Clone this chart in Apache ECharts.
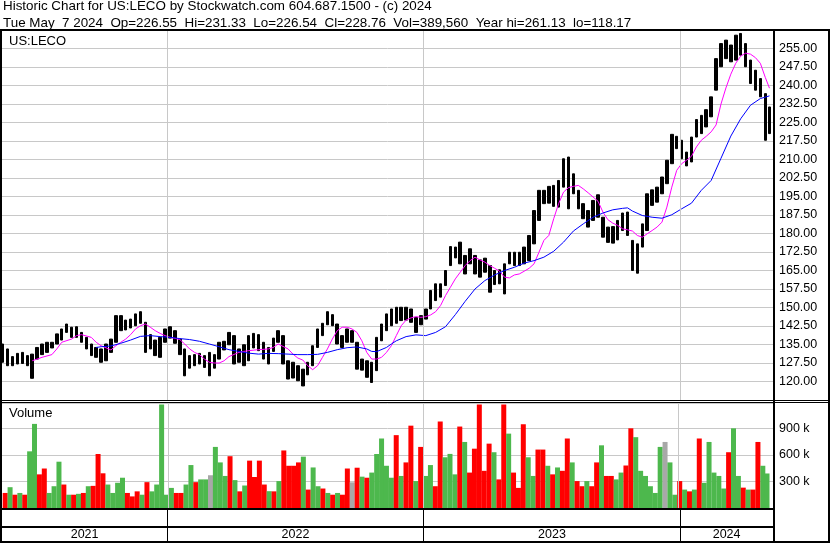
<!DOCTYPE html>
<html><head><meta charset="utf-8">
<script src="https://cdn.jsdelivr.net/npm/echarts@6/dist/echarts.min.js"></script>
<style>html,body{margin:0;padding:0;background:#fff}#c{width:830px;height:543px}</style>
</head><body><div id="c"></div>
<script>
// ---- DATA (weekly samples) ----
const weeks = [
'2021-05-12','2021-05-19','2021-05-26','2021-06-02','2021-06-09','2021-06-16','2021-06-23','2021-06-30','2021-07-07','2021-07-14','2021-07-21','2021-07-28','2021-08-04','2021-08-11','2021-08-18','2021-08-25','2021-09-01','2021-09-08','2021-09-15','2021-09-22','2021-09-29','2021-10-06','2021-10-13','2021-10-20','2021-10-27','2021-11-03','2021-11-10','2021-11-17','2021-11-24','2021-12-01','2021-12-08','2021-12-15','2021-12-22','2021-12-29',
'2022-01-05','2022-01-12','2022-01-19','2022-01-26','2022-02-02','2022-02-09','2022-02-16','2022-02-23','2022-03-02','2022-03-09','2022-03-16','2022-03-23','2022-03-30','2022-04-06','2022-04-13','2022-04-20','2022-04-27','2022-05-04','2022-05-11','2022-05-18','2022-05-25','2022-06-01','2022-06-08','2022-06-15','2022-06-22','2022-06-29','2022-07-06','2022-07-13','2022-07-20','2022-07-27','2022-08-03','2022-08-10','2022-08-17','2022-08-24','2022-08-31','2022-09-07','2022-09-14','2022-09-21','2022-09-28','2022-10-05','2022-10-12','2022-10-19','2022-10-26','2022-11-02','2022-11-09','2022-11-16','2022-11-23','2022-11-30','2022-12-07','2022-12-14','2022-12-21','2022-12-28',
'2023-01-04','2023-01-11','2023-01-18','2023-01-25','2023-02-01','2023-02-08','2023-02-15','2023-02-22','2023-03-01','2023-03-08','2023-03-15','2023-03-22','2023-03-29','2023-04-05','2023-04-12','2023-04-19','2023-04-26','2023-05-03','2023-05-10','2023-05-17','2023-05-24','2023-05-31','2023-06-07','2023-06-14','2023-06-21','2023-06-28','2023-07-05','2023-07-12','2023-07-19','2023-07-26','2023-08-02','2023-08-09','2023-08-16','2023-08-23','2023-08-30','2023-09-06','2023-09-13','2023-09-20','2023-09-27','2023-10-04','2023-10-11','2023-10-18','2023-10-25','2023-11-01','2023-11-08','2023-11-15','2023-11-22','2023-11-29','2023-12-06','2023-12-13','2023-12-20','2023-12-27',
'2024-01-03','2024-01-10','2024-01-17','2024-01-24','2024-01-31','2024-02-07','2024-02-14','2024-02-21','2024-02-28','2024-03-06','2024-03-13','2024-03-20','2024-03-27','2024-04-03','2024-04-10','2024-04-17','2024-04-24','2024-05-01','2024-05-07'
];
const hi = [135.2,133.2,130.1,131.4,131.8,130.5,131.1,133.8,135.2,135.9,135.9,139.3,141.3,143.3,142.0,142.2,139.9,137.9,135.2,133.8,
133.2,135.2,137.2,146.7,146.7,144.9,145.3,147.4,148.3,144.0,139.0,136.8,137.9,141.3,142.2,140.6,137.2,133.2,130.5,130.9,
131.4,130.5,131.8,130.9,135.9,136.3,139.9,138.6,133.2,134.9,138.6,139.5,139.0,135.9,133.8,137.6,140.6,138.6,128.4,127.8,
126.4,125.0,127.8,134.5,141.3,143.6,148.3,147.1,143.3,138.6,141.3,140.6,135.9,129.1,128.4,127.8,137.9,143.3,147.4,149.4,
150.1,150.1,150.1,149.4,146.0,146.7,149.4,156.9,159.6,159.6,165.0,174.7,174.5,176.5,171.1,173.8,171.1,169.3,170.0,167.0,
165.0,165.3,167.7,172.4,172.4,172.4,174.5,179.2,189.3,197.5,197.5,199.1,199.5,201.5,210.3,211.0,204.2,197.5,192.1,189.3,
193.4,195.7,186.6,182.6,182.8,185.3,188.3,188.7,177.2,175.8,183.9,196.1,197.7,198.8,202.9,209.7,220.2,219.4,217.8,213.0,
219.1,226.2,227.9,230.2,235.4,250.9,257.0,258.4,256.4,260.4,261.1,257.0,250.3,246.2,242.8,236.7,231.3];
const lo = [127.8,126.4,126.4,127.1,127.3,126.4,121.3,129.1,130.9,131.8,133.6,135.2,136.8,139.9,137.9,137.9,135.9,133.2,130.5,129.8,
127.8,128.4,131.8,135.9,140.6,140.9,141.7,142.6,143.6,131.8,133.2,130.5,129.8,135.9,137.6,135.5,130.9,122.3,125.4,126.4,
127.1,125.7,122.3,125.4,129.1,132.8,134.9,127.1,127.8,126.4,128.4,133.6,132.5,129.1,127.1,132.2,135.9,127.1,121.0,121.4,
120.3,118.2,122.7,126.4,133.8,138.6,143.0,142.6,135.2,133.8,135.9,135.9,125.0,124.6,121.7,119.6,124.4,136.5,140.6,142.6,
143.6,144.7,144.9,144.0,139.9,143.0,145.3,149.4,152.8,154.2,158.9,167.0,170.1,167.7,163.6,167.7,163.6,162.3,164.3,156.2,
159.3,159.6,155.5,167.7,167.0,167.0,167.7,169.0,175.8,185.3,192.1,192.3,191.0,190.7,198.8,190.0,196.1,190.0,186.0,182.6,
185.3,186.6,178.5,176.4,176.1,177.4,181.2,179.2,165.0,163.9,174.5,181.2,191.4,192.7,196.1,200.2,208.3,214.4,210.3,207.4,
209.0,219.1,220.5,223.2,227.3,238.1,247.6,250.9,249.6,250.3,252.3,247.6,240.8,238.1,235.4,217.8,220.5];
const volK = [170,235,150,170,150,640,950,380,446,170,246,523,265,150,150,160,170,246,250,610,
392,265,170,285,342,170,131,188,150,292,188,265,1169,150,227,170,170,265,485,292,
323,323,370,690,515,362,585,315,188,254,535,350,535,265,190,188,304,650,477,477,
515,580,208,458,246,220,170,150,170,150,446,290,455,354,342,400,610,785,477,342,
823,362,515,930,304,690,362,485,246,977,573,611,380,920,746,400,670,1169,420,727,
630,323,1169,840,400,227,946,573,362,660,660,477,380,458,420,785,515,304,246,304,
246,515,708,362,362,323,400,480,900,800,420,362,246,170,690,746,515,150,304,208,
188,208,785,285,746,400,362,220,630,900,362,230,208,208,746,477,390];
const volDir = ['d','u','d','u','d','u','u','d','d','u','u','u','d','u','d','u','d','u','d','d',
'd','u','u','u','u','d','d','d','u','d','u','u','u','u','u','d','d','u','u','d',
'u','u','n','u','u','u','d','u','d','u','d','d','d','d','u','d','u','d','d','d',
'd','u','d','u','u','d','u','d','u','d','d','n','d','u','d','u','u','u','u','u',
'd','u','d','d','u','d','u','u','d','d','u','u','u','d','u','d','d','d','d','d',
'u','d','d','u','d','d','d','u','u','d','d','u','d','u','d','d','u','d','d','u',
'd','d','u','d','d','u','u','d','d','u','u','u','u','u','u','n','u','u','d','u',
'd','u','d','u','u','u','u','u','d','u','u','d','u','d','d','u','u'];
// moving averages (week index -> value)
const maFastIdx = [6,8,10,11,12,14,15,16,18,19,20,22,23,24,25,26,27,28,29,30,31,32,33,34,35,36,37,38,39,40,41,42,43,44,45,46,48,49,50,52,54,55,56,58,59,60,61,62,63,64,65,66,67,68,69,70,71,72,73,74,75,76,77,78,79,80,81,82,83,84,85,86,87,88,89,90,91,92,93,94,95,96,97,98,99,100,101,102,103,104,105,106,107,108,109,110,111,112,113,114,115,116,117,118,119,120,121,122,123,124,125,126,127,128,129,130,131,132,133,134,135,136,137,138,139,140,141,142,143,144,145,146,147,148,149,150,151,152,153,154,155,156];
const maFast = [128.4,129.8,130.9,133.2,135.9,137.2,138.6,139.0,137.9,135.9,134.5,132.8,134.5,135.9,137.2,139.0,141.3,142.6,143.3,142.0,140.6,139.5,138.6,137.9,137.5,137.0,135.2,133.2,131.8,130.9,129.1,127.8,127.5,127.5,128.4,130.1,131.8,132.2,132.5,132.9,133.2,133.8,135.2,133.2,131.1,129.5,128.7,126.4,124.8,126.4,129.8,133.2,137.2,140.6,142.0,142.0,141.3,139.9,136.5,131.8,129.1,129.1,129.8,131.8,134.5,138.6,142.6,144.9,145.8,146.3,146.0,146.3,147.0,148.3,150.8,154.8,158.2,161.6,164.3,167.0,169.0,170.4,169.3,168.4,167.0,165.9,164.7,162.3,162.0,163.2,163.6,164.7,165.9,167.7,172.4,177.2,179.2,186.0,192.1,196.8,198.6,199.1,199.5,198.1,196.5,194.8,193.1,188.7,185.6,184.2,183.3,181.9,181.5,181.0,179.2,178.5,179.9,181.2,182.6,184.6,190.7,198.8,205.6,208.3,209.7,211.3,215.1,217.8,219.4,221.2,224.0,232.5,239.0,244.6,249.0,251.9,253.1,252.7,251.3,249.0,243.3,238.9];
const maSlowIdx = [19,20,22,24,26,28,30,32,34,36,38,40,42,44,46,48,50,52,54,56,58,60,62,64,66,68,70,72,74,75,76,78,79,80,82,84,86,88,90,92,94,96,98,100,102,104,106,108,110,112,114,116,118,120,122,124,126,127,128,130,132,134,136,138,140,142,144,146,148,150,152,154,156];
const maSlow = [133.8,134.1,134.4,135.5,136.8,138.3,138.6,138.2,137.9,137.4,137.0,136.3,135.2,134.1,132.9,132.2,131.5,131.1,131.4,131.3,131.1,130.9,130.9,131.0,131.8,132.9,133.7,134.0,133.2,132.2,132.1,133.8,135.2,136.5,138.2,138.9,138.6,139.9,142.2,147.1,152.5,157.5,160.9,163.2,165.0,166.3,168.0,169.0,170.4,172.8,176.5,181.0,183.9,186.6,188.3,189.6,190.2,190.4,189.1,187.3,186.6,186.2,187.6,190.0,192.3,197.5,201.5,210.5,219.5,226.5,232.0,234.7,235.8];
const yearBounds = ['2021-05-11','2022-01-01','2023-01-01','2024-01-01','2024-05-12'];
const yearLabels = ['2021','2022','2023','2024'];
const headerLine1 = 'Historic Chart for US:LECO by Stockwatch.com 604.687.1500 - (c) 2024';
const headerLine2 = 'Tue May  7 2024  Op=226.55  Hi=231.33  Lo=226.54  Cl=228.76  Vol=389,560  Year hi=261.13  lo=118.17';

// ---- CHART ----
const FONT = '"Liberation Sans", Arial, sans-serif';
const T0 = yearBounds[0], T1 = yearBounds[yearBounds.length - 1];
const inner = yearBounds.slice(1, -1);
const volColor = {u: '#4db84d', d: '#ff0000', n: '#a8a8a8'};
const candle = weeks.map((d, i) => [d, lo[i], hi[i], lo[i], hi[i]]);
const volData = weeks.map((d, i) => ({value: [d, volK[i]], itemStyle: {color: volColor[volDir[i]]}}));
const fastData = maFastIdx.map((k, j) => [weeks[k], maFast[j]]);
const slowData = maSlowIdx.map((k, j) => [weeks[k], maSlow[j]]);

const gridLine = c => ({silent: true, symbol: ['none', 'none'], label: {show: false}, animation: false,
  lineStyle: {color: c, width: 1, type: 'solid'}, data: inner.map(d => ({xAxis: d}))});
const timeAxis = g => ({type: 'time', gridIndex: g, min: T0, max: T1, show: false});

const chart = echarts.init(document.getElementById('c'), null, {renderer: 'canvas'});
chart.setOption({
  animation: false,
  backgroundColor: '#fff',
  grid: [
    {left: 2, right: 57, top: 30, height: 370},
    {left: 2, right: 57, top: 403, height: 105},
    {left: 2, right: 57, top: 510, height: 31},
    {left: 2, right: 57, top: 528, height: 13}
  ],
  xAxis: [timeAxis(0), timeAxis(1), timeAxis(2), timeAxis(3)],
  yAxis: [
    {type: 'value', gridIndex: 0, position: 'right', min: 112.5, max: 262.5, interval: 7.5,
     axisLine: {show: false}, axisTick: {show: false},
     splitLine: {show: true, lineStyle: {color: '#c8c8c8', width: 1}},
     axisLabel: {color: '#000', fontFamily: FONT, fontSize: 12.5, margin: 6,
       showMinLabel: false, showMaxLabel: false, formatter: v => v.toFixed(2)}},
    {type: 'value', gridIndex: 1, position: 'right', min: 0, max: 1186, interval: 300,
     axisLine: {show: false}, axisTick: {show: false},
     splitLine: {show: true, lineStyle: {color: '#c8c8c8', width: 1}},
     axisLabel: {color: '#000', fontFamily: FONT, fontSize: 12.5, margin: 6,
       showMinLabel: false, showMaxLabel: false, formatter: v => v + ' k'}},
    {type: 'value', gridIndex: 2, min: 0, max: 1, show: false},
    {type: 'value', gridIndex: 3, min: 0, max: 1, show: false}
  ],
  series: [
    {type: 'line', xAxisIndex: 0, yAxisIndex: 0, data: [], markLine: gridLine('#c8c8c8'), z: 1},
    {type: 'candlestick', xAxisIndex: 0, yAxisIndex: 0, data: candle, encode: {x: 0, y: [1, 2, 3, 4]},
     barWidth: 3, silent: true,
     itemStyle: {color: '#000', color0: '#000', borderColor: '#000', borderColor0: '#000', borderWidth: 1}, z: 2},
    {type: 'line', xAxisIndex: 0, yAxisIndex: 0, data: fastData, showSymbol: false, symbol: 'none',
     lineStyle: {color: '#ff00ff', width: 1}, itemStyle: {color: '#ff00ff'}, silent: true, z: 3},
    {type: 'line', xAxisIndex: 0, yAxisIndex: 0, data: slowData, showSymbol: false, symbol: 'none',
     lineStyle: {color: '#0000ff', width: 1}, itemStyle: {color: '#0000ff'}, silent: true, z: 3},
    {type: 'line', xAxisIndex: 1, yAxisIndex: 1, data: [], markLine: gridLine('#c8c8c8'), z: 1},
    {type: 'bar', xAxisIndex: 1, yAxisIndex: 1, data: volData, barWidth: 5, silent: true, z: 2},
    {type: 'line', xAxisIndex: 2, yAxisIndex: 2, data: [], markLine: gridLine('#000'), z: 5},
    {type: 'line', xAxisIndex: 3, yAxisIndex: 3, data: [], silent: true,
     markArea: {silent: true, itemStyle: {color: 'rgba(0,0,0,0)'},
       label: {show: true, position: 'inside', color: '#000', fontFamily: FONT, fontSize: 12.5},
       data: yearLabels.map((y, k) => [{name: y, xAxis: yearBounds[k]}, {xAxis: yearBounds[k + 1]}])}}
  ],
  graphic: [
    {type: 'rect', shape: {x: 0, y: 29, width: 830, height: 2}, style: {fill: '#000'}, z: 100},
    {type: 'rect', shape: {x: 0, y: 29, width: 2, height: 514}, style: {fill: '#000'}, z: 100},
    {type: 'rect', shape: {x: 828, y: 29, width: 2, height: 514}, style: {fill: '#000'}, z: 100},
    {type: 'rect', shape: {x: 773, y: 29, width: 2, height: 514}, style: {fill: '#000'}, z: 100},
    {type: 'rect', shape: {x: 0, y: 400, width: 830, height: 1}, style: {fill: '#000'}, z: 100},
    {type: 'rect', shape: {x: 0, y: 402, width: 830, height: 1}, style: {fill: '#000'}, z: 100},
    {type: 'rect', shape: {x: 0, y: 508, width: 775, height: 2}, style: {fill: '#000'}, z: 100},
    {type: 'rect', shape: {x: 0, y: 526, width: 775, height: 2}, style: {fill: '#000'}, z: 100},
    {type: 'rect', shape: {x: 0, y: 541, width: 830, height: 2}, style: {fill: '#000'}, z: 100},
    {type: 'text', x: 3, y: 6.5, z: 100, style: {text: headerLine1, fill: '#000', font: '13.4px ' + FONT, verticalAlign: 'middle'}},
    {type: 'text', x: 3, y: 23, z: 100, style: {text: headerLine2, fill: '#000', font: '13.4px ' + FONT, verticalAlign: 'middle'}},
    {type: 'text', x: 9, y: 41.5, z: 100, style: {text: 'US:LECO', fill: '#000', font: '13px ' + FONT, verticalAlign: 'middle'}},
    {type: 'text', x: 9, y: 413, z: 100, style: {text: 'Volume', fill: '#000', font: '13px ' + FONT, verticalAlign: 'middle'}}
  ]
});
</script></body></html>
